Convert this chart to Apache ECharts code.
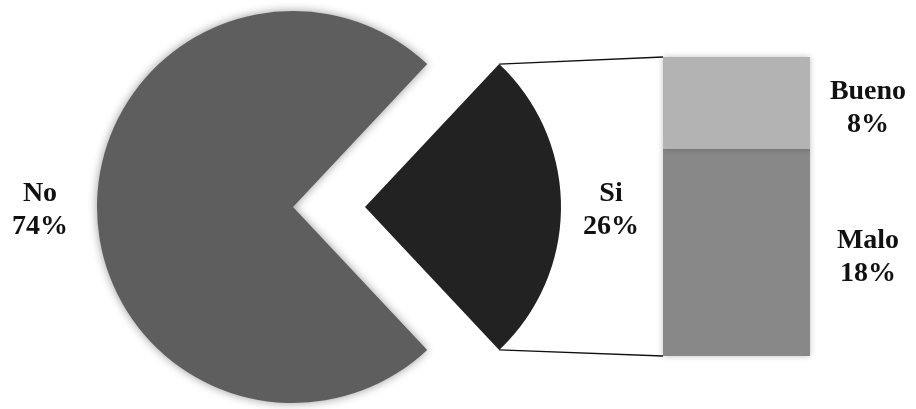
<!DOCTYPE html>
<html>
<head>
<meta charset="utf-8">
<script src="https://cdn.jsdelivr.net/npm/echarts@6/dist/echarts.min.js"></script>
<style>
  html, body { margin: 0; padding: 0; background: #fff; }
  #chart { width: 916px; height: 409px; }
</style>
</head>
<body>
<div id="chart"></div>
<script>
// Pie: share answering No / Si
const pieNames = ['Si', 'No'];
const pieValues = [26, 74];
// Breakdown of "Si" shown as a stacked bar
const barNames = ['Malo', 'Bueno'];
const barValues = [18, 8];

const colors = { No: '#5e5e5e', Si: '#222222', Bueno: '#b3b3b3', Malo: '#888888' };

// Layout
const R = 196;
const mainCenter = [293, 207];
const explode = 72;
const siCenter = [mainCenter[0] + explode, mainCenter[1]];
const grid = { left: 663, top: 57, width: 147, height: 299 };

const total = pieValues.reduce((a, b) => a + b, 0);
const siShare = pieValues[0] / total;
const halfAngle = siShare * 180;           // Si slice centered on 3 o'clock
const startAngle = halfAngle;

const fontFamily = '"Liberation Serif", "Times New Roman", serif';
const labelText = { fontFamily, fontWeight: 'bold', fontSize: 28, color: '#111', lineHeight: 33 };

function pieSeries(center, visibleName, labelGap) {
  return {
    type: 'pie',
    center,
    radius: R,
    startAngle,
    clockwise: true,
    avoidLabelOverlap: false,
    silent: true,
    animation: false,
    labelLine: { show: false, length: 0, length2: labelGap },
    data: pieNames.map((n, i) => {
      const visible = n === visibleName;
      return {
        name: n,
        value: pieValues[i],
        itemStyle: visible
          ? Object.assign({ color: colors[n] },
              n === 'No' ? { shadowBlur: 10, shadowColor: 'rgba(0,0,0,0.4)' } : {})
          : { color: 'rgba(0,0,0,0)' },
        label: visible ? {
          show: true,
          position: 'outside',
          distanceToLabelLine: 5,
          offset: [0, 3],
          formatter: '{t|{b}}\n{t|{d}%}',
          rich: { t: Object.assign({ width: 62, align: 'center' }, labelText) }
        } : { show: false }
      };
    })
  };
}

function barSeries(i) {
  return {
    type: 'bar',
    name: barNames[i],
    stack: 'si',
    barWidth: '100%',
    silent: true,
    animation: false,
    data: [barValues[i]],
    itemStyle: { color: colors[barNames[i]], shadowBlur: 6, shadowColor: 'rgba(0,0,0,0.25)' },
    label: {
      show: true,
      position: 'right',
      distance: 17,
      offset: [0, 5],
      formatter: '{t|{a}}\n{t|{c}%}',
      rich: { t: Object.assign({ width: 82, align: 'center' }, labelText) }
    }
  };
}

// Connector lines from the ends of the Si slice to the bar corners
const rad = halfAngle * Math.PI / 180;
const topEnd = [siCenter[0] + R * Math.cos(rad), siCenter[1] - R * Math.sin(rad)];
const botEnd = [siCenter[0] + R * Math.cos(rad), siCenter[1] + R * Math.sin(rad)];
const barTop = [grid.left, grid.top];
const barBot = [grid.left, grid.top + grid.height];

const chart = echarts.init(document.getElementById('chart'));
chart.setOption({
  backgroundColor: '#ffffff',
  animation: false,
  grid: Object.assign({ containLabel: false }, grid),
  xAxis: { type: 'category', data: ['Si'], show: false },
  yAxis: { type: 'value', min: 0, max: pieValues[0], show: false },
  series: [
    pieSeries(mainCenter, 'No', 21),
    pieSeries(siCenter, 'Si', 14),
    barSeries(0),
    barSeries(1)
  ],
  graphic: [
    { type: 'line', silent: true, shape: { x1: topEnd[0], y1: topEnd[1], x2: barTop[0], y2: barTop[1] },
      style: { stroke: '#111', lineWidth: 1.4 } },
    { type: 'line', silent: true, shape: { x1: botEnd[0], y1: botEnd[1], x2: barBot[0], y2: barBot[1] },
      style: { stroke: '#111', lineWidth: 1.4 } }
  ]
});
</script>
</body>
</html>
